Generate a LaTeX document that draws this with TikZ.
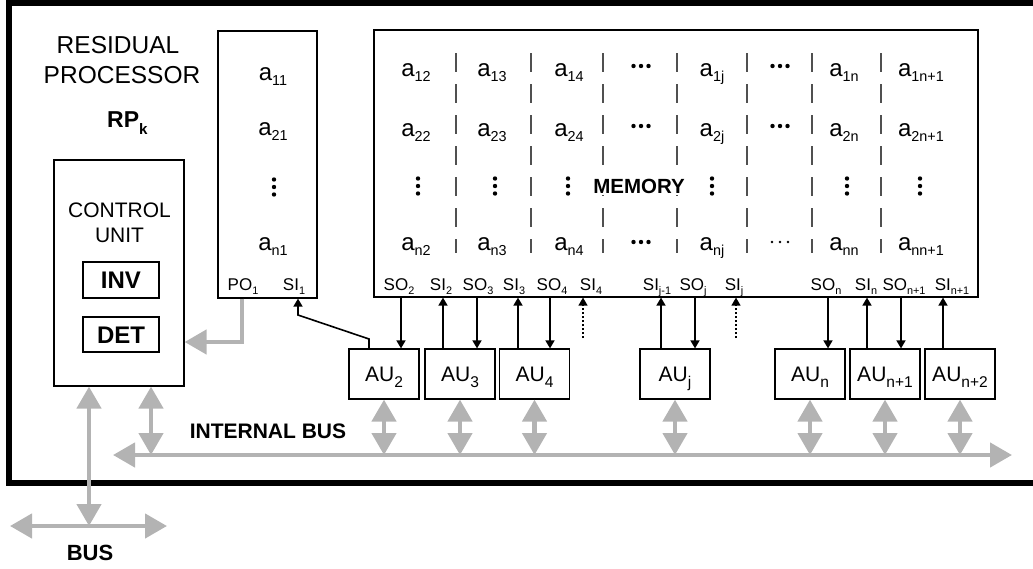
\documentclass[tikz,border=0pt]{standalone}
\usepackage{fontspec}
\setmainfont{Liberation Sans}
\usetikzlibrary{arrows.meta}
\definecolor{busgray}{RGB}{179,179,179}
\definecolor{divgray}{RGB}{80,80,80}
\newcommand\lsub[1]{\raisebox{-0.24em}{\scalebox{0.6}{#1}}}
\newcommand\psub[1]{\raisebox{-0.28em}{\scalebox{0.64}{#1}}}
\newcommand\asub[1]{\raisebox{-0.29em}{\scalebox{0.74}{#1}}}
\newcommand\rsub[1]{\raisebox{-0.32em}{\scalebox{0.66}{#1}}}
\newcommand\vdts[2]{\fill (#1,#2-7.5) circle[radius=2.2pt] (#1,#2) circle[radius=2.2pt] (#1,#2+7.5) circle[radius=2.2pt];}
\newcommand\hdts[2]{\fill (#1-7.5,#2) circle[radius=2.2pt] (#1,#2) circle[radius=2.2pt] (#1+7.5,#2) circle[radius=2.2pt];}
\tikzset{
  gt/.tip={Triangle[width=24pt,length=22pt]},
  st/.tip={Triangle[width=9pt,length=8pt]},
  box/.style={draw, line width=1.2pt, inner sep=0pt},
  aubox/.style={box, minimum width=70pt, minimum height=50pt, font=\fontsize{21}{24}\selectfont, text height=15pt, text depth=0pt},
  lab/.style={inner sep=0pt, anchor=base, font=\fontsize{24}{26}\selectfont},
  port/.style={inner sep=0pt, anchor=base, font=\fontsize{17}{20}\selectfont},
  gbus/.style={draw=busgray, line width=4.5pt},
  sarr/.style={draw, line width=1.6pt, -st},
  darr/.style={draw, line width=1.3pt, dash pattern=on 2pt off 2pt, -st},
  divider/.style={draw=divgray, line width=1.2pt, dash pattern=on 19pt off 12pt},
}
\begin{document}
\begin{tikzpicture}[x=1pt,y=-1pt]
\useasboundingbox (0,0) rectangle (1033,568);
\clip (0,0) rectangle (1033,568);
% outer frame
\draw[line width=6pt] (1045,3) -- (9,3) -- (9,483) -- (1045,483);

% titles
\node[anchor=base, inner sep=0pt, font=\fontsize{24.5}{26}\selectfont] (t1) at (118,53) {RESIDUAL};
\node[anchor=base, inner sep=0pt, font=\fontsize{24.5}{26}\selectfont] (t2) at (122,83) {PROCESSOR};
\node[anchor=base west, inner sep=0pt, font=\bfseries\fontsize{23}{25}\selectfont] (rp) at (107,127) {RP\rsub{k}};

% control unit
\node[box, minimum width=130pt, minimum height=226pt] (cu) at (119,273) {};
\node[anchor=base, inner sep=0pt, font=\fontsize{21}{24}\selectfont] (cu1) at (119.5,217) {CONTROL};
\node[anchor=base, inner sep=0pt, font=\fontsize{21}{24}\selectfont] (cu2) at (119.5,242) {UNIT};
\node[box, minimum width=76pt, minimum height=36pt, font=\bfseries\fontsize{24}{26}\selectfont, text height=17pt, text depth=0pt] (inv) at (121,280) {INV};
\node[box, minimum width=76pt, minimum height=35pt, font=\bfseries\fontsize{24}{26}\selectfont, text height=17pt, text depth=0pt] (det) at (121,334.5) {DET};

% first column
\node[box, minimum width=99pt, minimum height=267pt] (col) at (267.5,164.5) {};
\node[lab] (a11) at (273,80) {a\lsub{11}};
\node[lab] (a21) at (273,135) {a\lsub{21}};
\vdts{274}{187}
\node[lab] (an1) at (273,250) {a\lsub{n1}};
\node[port] (po1) at (243,290) {PO\psub{1}};
\node[port] (si1) at (294,290) {SI\psub{1}};

% memory
\node[box, minimum width=604pt, minimum height=267pt] (mem) at (676,163.5) {};
\foreach \x in {456,531,603,677,747,812,881}{\draw[divider] (\x,53) -- (\x,253);}
\node[lab] (a12) at (416,76) {a\lsub{12}};
\node[lab] (a13) at (492,76) {a\lsub{13}};
\node[lab] (a14) at (569,76) {a\lsub{14}};
\hdts{641}{66}
\node[lab] (a1j) at (712,76) {a\lsub{1j}};
\hdts{780}{66}
\node[lab] (a1n) at (844,76) {a\lsub{1n}};
\node[lab] (a1m) at (921,76) {a\lsub{1n+1}};

\node[lab] (a22) at (416,136) {a\lsub{22}};
\node[lab] (a23) at (492,136) {a\lsub{23}};
\node[lab] (a24) at (569,136) {a\lsub{24}};
\hdts{641}{126}
\node[lab] (a2j) at (712,136) {a\lsub{2j}};
\hdts{780}{126}
\node[lab] (a2n) at (844,136) {a\lsub{2n}};
\node[lab] (a2m) at (921,136) {a\lsub{2n+1}};

\vdts{418}{186}
\vdts{495}{186}
\vdts{568}{186}
\node[font=\bfseries\fontsize{20.5}{22}\selectfont, inner sep=2pt, fill=white] (memlbl) at (639,186) {MEMORY};
\vdts{712}{186}
\vdts{847}{186}
\vdts{920}{186}

\node[lab] (an2) at (416,250) {a\lsub{n2}};
\node[lab] (an3) at (492,250) {a\lsub{n3}};
\node[lab] (an4) at (569,250) {a\lsub{n4}};
\hdts{641}{242}
\node[lab] (anj) at (712,250) {a\lsub{nj}};
\fill (772,242) circle[radius=1.4pt] (780,242) circle[radius=1.4pt] (788,242) circle[radius=1.4pt];
\node[lab] (ann) at (844,250) {a\lsub{nn}};
\node[lab] (anm) at (921,250) {a\lsub{nn+1}};

% port labels
\node[port] (lso2) at (399,290) {SO\psub{2}};
\node[port] (lsi2) at (441,290) {SI\psub{2}};
\node[port] (lso3) at (478,290) {SO\psub{3}};
\node[port] (lsi3) at (514,290) {SI\psub{3}};
\node[port] (lso4) at (552,290) {SO\psub{4}};
\node[port] (lsi4) at (591,290) {SI\psub{4}};
\node[port] (lsij) at (657,290) {SI\psub{j-1}};
\node[port] (lsoj) at (693,290) {SO\psub{j}};
\node[port] (lsj) at (734,290) {SI\psub{j}};
\node[port] (lson) at (826,290) {SO\psub{n}};
\node[port] (lsin) at (866,290) {SI\psub{n}};
\node[port] (lsom) at (904,290) {SO\psub{n+1}};
\node[port] (lsim) at (952,290) {SI\psub{n+1}};

% arithmetic units
\node[aubox] (au2) at (384,374) {AU\asub{2}};
\node[aubox] (au3) at (460,374) {AU\asub{3}};
\node[aubox] (au4) at (534.5,374) {AU\asub{4}};
\node[aubox] (auj) at (675,374) {AU\asub{j}};
\node[aubox] (aun) at (810,374) {AU\asub{n}};
\node[aubox] (aum) at (885,374) {AU\asub{n+1}};
\node[aubox] (aup) at (960,374) {AU\asub{n+2}};

% port x positions
\coordinate (x2o) at (401,0);
\coordinate (x2i) at (443,0);
\coordinate (x3o) at (477,0);
\coordinate (x3i) at (518,0);
\coordinate (x4o) at (550,0);
\coordinate (x4i) at (583,0);
\coordinate (xji) at (661,0);
\coordinate (xjo) at (695,0);
\coordinate (xj) at (736,0);
\coordinate (xno) at (828,0);
\coordinate (xni) at (867,0);
\coordinate (xmo) at (901,0);
\coordinate (xmi) at (943,0);
\coordinate (dotend) at (0,338);

\draw[sarr] (mem.south -| x2o) -- (au2.north -| x2o);
\draw[sarr] (au3.north -| x2i) -- (mem.south -| x2i);
\draw[sarr] (mem.south -| x3o) -- (au3.north -| x3o);
\draw[sarr] (au4.north -| x3i) -- (mem.south -| x3i);
\draw[sarr] (mem.south -| x4o) -- (au4.north -| x4o);
\draw[darr] (dotend -| x4i) -- (mem.south -| x4i);
\draw[sarr] (auj.north -| xji) -- (mem.south -| xji);
\draw[sarr] (mem.south -| xjo) -- (auj.north -| xjo);
\draw[darr] (dotend -| xj) -- (mem.south -| xj);
\draw[sarr] (mem.south -| xno) -- (aun.north -| xno);
\draw[sarr] (aum.north -| xni) -- (mem.south -| xni);
\draw[sarr] (mem.south -| xmo) -- (aum.north -| xmo);
\draw[sarr] (aup.north -| xmi) -- (mem.south -| xmi);

% AU2 -> SI1
\coordinate (s1a) at (369,339);
\coordinate (s1b) at (298,315);
\draw[sarr] (au2.north -| s1a) -- (s1a) -- (s1b) -- (col.south -| s1b);

% grey buses
\coordinate (ibL) at (113,455);
\coordinate (ibR) at (1012,455);
\draw[gbus, gt-gt] (ibL) -- (ibR);
\node[font=\bfseries\fontsize{21}{24}\selectfont, inner sep=0pt] (iblbl) at (268,431) {INTERNAL BUS};
\foreach \n in {au2,au3,au4,auj,aun,aum,aup}{
  \draw[gbus, gt-gt] (\n.south) -- (\n.south |- ibL);
}
\coordinate (cux) at (151,0);
\draw[gbus, gt-gt] (cu.south -| cux) -- (ibL -| cux);
\coordinate (po) at (242,342);
\draw[gbus, -gt] (col.south -| po) |- (cu.east |- po);

\coordinate (busc) at (89,526);
\coordinate (busL) at (10,526);
\coordinate (busR) at (167,526);
\draw[gbus, gt-gt] (cu.south -| busc) -- (busc);
\draw[gbus, gt-gt] (busL) -- (busR);
\node[font=\bfseries\fontsize{22}{24}\selectfont, inner sep=0pt] (buslbl) at (90,553) {BUS};
\end{tikzpicture}
\end{document}
